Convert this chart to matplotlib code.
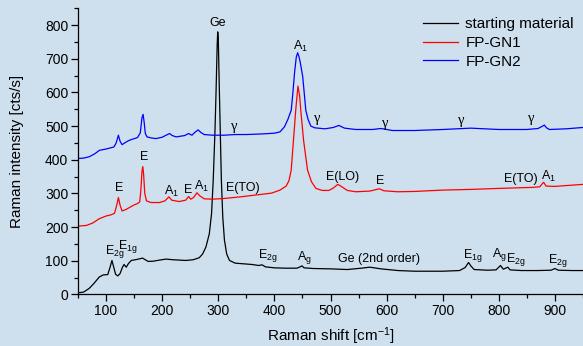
import matplotlib
matplotlib.use("Agg")
import matplotlib.pyplot as plt
from matplotlib.ticker import MultipleLocator

plt.rcParams["font.family"] = ["Liberation Sans", "DejaVu Sans"]
plt.rcParams["mathtext.fontset"] = "custom"
plt.rcParams["mathtext.rm"] = "Liberation Sans"
plt.rcParams["mathtext.it"] = "Liberation Sans:italic"

BG = "#cee0ed"

# starting material (black)
start_x = [50, 60, 70, 78, 88, 95, 103, 107, 110.5, 113, 117, 121, 125, 129, 132, 136, 140, 145,
           155, 165, 170, 175, 185, 195, 207, 220, 242, 255, 266, 272, 278, 284, 288, 291, 294,
           296, 298, 299, 300, 302, 304, 305.5, 308, 311, 315, 320, 330, 345, 360, 372, 378, 384,
           400, 420, 440, 446, 449, 453, 470, 500, 530, 555, 570, 590, 620, 650, 680, 700, 730,
           740, 746, 750, 756, 780, 795, 803, 808, 816, 820, 840, 870, 893, 900, 906, 930, 950]
start_y = [5, 7, 18, 32, 52, 58, 59, 80, 101, 85, 60, 55, 62, 80, 89, 81, 92, 101,
           104, 108, 103, 98, 99, 102, 105, 103, 101, 103, 109, 120, 141, 180, 240, 340, 480,
           600, 740, 780, 760, 600, 450, 340, 230, 161, 120, 101, 93, 91, 89, 86, 88, 82,
           79, 78, 78, 82, 85, 79, 77, 76, 74, 78, 81, 76, 71, 69, 69, 69, 71,
           80, 95, 85, 74, 72, 73, 86, 75, 81, 73, 71, 71, 72, 77, 72, 71, 71]

# FP-GN1 (red)
gn1_x = [50, 65, 76, 88, 100, 108, 115, 119, 122, 125, 128.5, 135, 141.5, 150, 156, 160, 162,
         164, 165.5, 167, 169, 172, 180, 195, 205, 212, 217, 230, 242, 247, 251, 256, 262, 267,
         275, 290, 310, 340, 370, 395, 410, 421, 426, 430, 434, 438, 442, 445, 447, 452, 459,
         466, 474, 485, 497, 505, 513, 520, 530, 545, 570, 580, 587, 595, 620, 650, 700, 750,
         800, 860, 873, 878, 880, 884, 900, 950]
gn1_y = [203, 205, 212, 225, 233, 236, 241, 265, 288, 265, 248, 252, 258, 266, 270, 275, 310,
         365, 380, 355, 300, 278, 273, 273, 278, 290, 280, 276, 280, 291, 283, 288, 302, 293,
         284, 283, 285, 290, 296, 301, 310, 322, 338, 370, 458, 547, 619, 590, 547, 458, 370,
         335, 315, 309, 309, 316, 327, 320, 309, 305, 307, 311, 314, 308, 305, 306, 310, 312,
         315, 318, 320, 330, 333, 322, 321, 327]

# FP-GN2 (blue)
gn2_x = [50, 60, 70, 80, 88, 100, 114, 118, 122, 125, 128.5, 135, 141.5, 156, 161, 164, 166,
         168, 170, 173, 180, 189, 200, 207, 213, 218, 225, 240, 247, 253, 258, 264, 269, 275,
         290, 310, 330, 350, 380, 400, 410, 418, 424, 430, 433, 436, 439, 441.5, 444, 446,
         450.5, 456, 460, 465, 472, 490, 505, 515, 525, 545, 575, 590, 610, 650, 700, 750,
         800, 850, 870, 878, 881, 885, 890, 920, 950]
gn2_y = [404, 405, 409, 418, 428, 432, 438, 450, 473, 455, 445, 452, 458, 466, 480, 525, 535,
         510, 478, 468, 465, 463, 467, 473, 478, 472, 468, 472, 478, 473, 481, 489, 481, 475,
         473, 473, 475, 475, 477, 479, 483, 498, 520, 547, 600, 660, 705, 718, 705, 690,
         647, 547, 520, 500, 495, 492, 496, 502, 494, 490, 490, 493, 487, 487, 490, 494,
         490, 490, 493, 500, 503, 495, 490, 492, 496]

# peak labels
ann_text = ["Ge", r"A$_\mathregular{1}$",
            "E", "E", r"A$_\mathregular{1}$", "E", r"A$_\mathregular{1}$", "E(TO)",
            "E(LO)", "E", "E(TO)", r"A$_\mathregular{1}$",
            r"E$_\mathregular{2g}$", r"E$_\mathregular{1g}$", r"E$_\mathregular{2g}$",
            r"A$_\mathregular{g}$", "Ge (2nd order)", r"E$_\mathregular{1g}$",
            r"A$_\mathregular{g}$", r"E$_\mathregular{2g}$", r"E$_\mathregular{2g}$"]
ann_x = [299, 447,
         123, 167, 216, 247, 270, 344,
         521, 589, 839, 888,
         116, 138, 389, 453, 587, 754,
         801, 831, 906]
ann_y = [806, 738,
         315, 409, 306, 310, 320, 315,
         349, 337, 344, 350,
         127, 143, 115, 109, 106, 115,
         119, 105, 102]

gamma_x = [328, 476, 597, 733, 857]
gamma_y = [500, 523, 508, 518, 523]

fig = plt.figure(figsize=(5.83, 3.46), dpi=100, facecolor=BG)
ax = fig.add_axes([0.1338, 0.149, 0.8662, 0.827], facecolor=BG)

ax.plot(start_x, start_y, color="black", lw=0.9, label="starting material")
ax.plot(gn1_x, gn1_y, color="#ff0000", lw=0.9, label="FP-GN1")
ax.plot(gn2_x, gn2_y, color="#0000ff", lw=0.9, label="FP-GN2")

for t, x, y in zip(ann_text, ann_x, ann_y):
    ax.text(x, y, t, ha="center", va="center", fontsize=9, color="black")
for x, y in zip(gamma_x, gamma_y):
    ax.text(x, y, "γ", ha="center", va="center", fontsize=10.5,
            family="Liberation Serif", color="black")

ax.set_xlim(50, 950)
ax.set_ylim(0, 850)
ax.xaxis.set_major_locator(MultipleLocator(100))
ax.xaxis.set_minor_locator(MultipleLocator(50))
ax.yaxis.set_major_locator(MultipleLocator(100))
ax.yaxis.set_minor_locator(MultipleLocator(50))
ax.tick_params(which="major", length=5, width=0.9, labelsize=10, pad=2)
ax.tick_params(which="minor", length=3, width=0.9)

for s in ("top", "right"):
    ax.spines[s].set_visible(False)
for s in ("left", "bottom"):
    ax.spines[s].set_linewidth(0.9)

ax.set_xlabel(r"Raman shift [cm$^\mathregular{-1}$]", fontsize=11, labelpad=5)
ax.set_ylabel("Raman intensity [cts/s]", fontsize=11, labelpad=15)

ax.legend(loc="upper right", frameon=False, fontsize=11, handlelength=2.3,
          borderaxespad=0.2, labelspacing=0.3, handletextpad=0.5)

fig.savefig("out.png", dpi=100, facecolor=BG)
